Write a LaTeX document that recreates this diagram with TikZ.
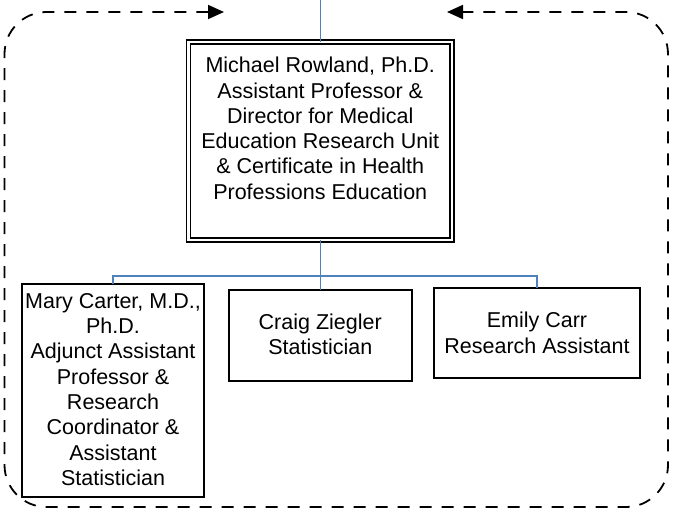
\documentclass[tikz,border=0pt]{standalone}
\usepackage{fontspec}
\setmainfont{Liberation Sans}
\usetikzlibrary{arrows.meta,calc}
\definecolor{orgblue}{RGB}{79,129,189}
\tikzset{
  orgbox/.style={draw=black, line width=1.9pt, fill=white, inner sep=0pt, outer sep=0pt},
  dirbox/.style={draw=black, double=white, double distance=2.3pt, line width=1.5pt, inner sep=0pt, outer sep=0pt},
  txt/.style={align=center, inner sep=0pt, font=\fontsize{21.5}{25.3}\selectfont, anchor=north},
  conn/.style={draw=orgblue, line width=1.4pt},
  loopline/.style={draw=black, line width=1.8pt, dash pattern=on 12pt off 10pt,
     rounded corners=42pt, {Triangle[length=16pt,width=14pt]}-{Triangle[length=16pt,width=14pt]}}
}
\begin{document}
\begin{tikzpicture}[x=1pt,y=-1pt]
\useasboundingbox (0,0) rectangle (675,516);
% boxes
\node[dirbox, minimum width=263.5pt, minimum height=198pt] (dir) at (320.25,141) {};
\node[orgbox, minimum width=182pt, minimum height=213pt] (mary) at (113,390.5) {};
\node[orgbox, minimum width=183pt, minimum height=91pt] (craig) at (320.25,335.5) {};
\node[orgbox, minimum width=206pt, minimum height=90pt] (emily) at (537,333) {};
% texts
\node[txt] (dirtext) at ([yshift=-15pt]dir.north) {Michael Rowland, Ph.D.\\Assistant Professor \&\\Director for Medical\\Education Research Unit\\\& Certificate in Health\\Professions Education};
\node[txt] (marytext) at ([yshift=-9pt]mary.north) {Mary Carter, M.D.,\\Ph.D.\\Adjunct Assistant\\Professor \&\\Research\\Coordinator \&\\Assistant\\Statistician};
\node[txt] (craigtext) at ([yshift=-23.7pt]craig.north) {Craig Ziegler\\Statistician};
\node[txt] (emilytext) at ([yshift=-24pt]emily.north) {Emily Carr\\Research Assistant};
% connectors
\coordinate (topin) at (320.25,0);
\coordinate (bus) at (320.25,276);
\draw[conn] (topin) -- (dir.north);
\draw[conn] (dir.south) -- (craig.north);
\draw[conn] (mary.north) |- (bus) -| (emily.north);
% dashed loop
\coordinate (la) at (224,12);
\coordinate (ra) at (447,12);
\coordinate (c1) at (4.5,12);
\coordinate (c2) at (4.5,507);
\coordinate (c3) at (668,507);
\coordinate (c4) at (668,12);
\draw[loopline] (la) -- (c1) -- (c2) -- (c3) -- (c4) -- (ra);
\end{tikzpicture}
\end{document}
